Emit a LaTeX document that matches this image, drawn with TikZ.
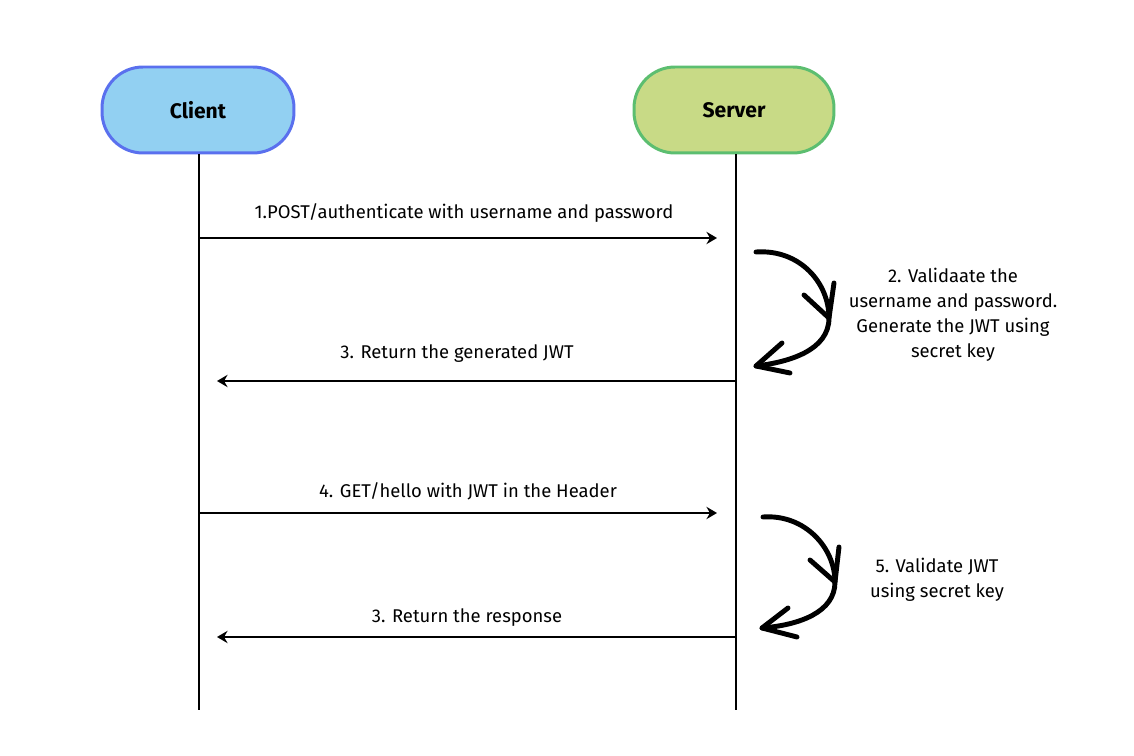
\documentclass[tikz,border=0pt]{standalone}
\usepackage{fontspec}
\setmainfont{Fira Sans}
\usetikzlibrary{arrows.meta}

\definecolor{clientfill}{RGB}{146,208,242}
\definecolor{clientline}{RGB}{90,112,238}
\definecolor{serverfill}{RGB}{200,218,134}
\definecolor{serverline}{RGB}{92,190,112}

\tikzset{
  actor/.style={draw,line width=1.7pt,rounded corners=0.82cm,minimum width=3.84cm,
    minimum height=1.72cm,font=\large\bfseries},
  lifeline/.style={line width=1.2pt},
  message/.style={line width=1.2pt,-{Stealth[length=6pt,width=7pt,inset=2pt]}},
  msg/.style={font=\fontsize{10.5}{14.2}\selectfont,inner sep=1pt},
  note/.style={font=\fontsize{10.5}{14.2}\selectfont,align=center,inner sep=1pt},
  loopback/.style={line width=2.8pt,line cap=round,line join=round}
}

\begin{document}
\begin{tikzpicture}[x=0.02cm,y=-0.02cm]
  \useasboundingbox (0,0) rectangle (1134,756);

  % actors
  \node[actor,fill=clientfill,draw=clientline] (client) at (198,110) {Client};
  \node[actor,fill=serverfill,draw=serverline,minimum width=4cm] (server) at (734,110) {Server};

  \coordinate (cend) at (199,710);
  \coordinate (send) at (736,710);
  \draw[lifeline] (client.south -| cend) -- (cend);
  \draw[lifeline] (server.south -| send) -- (send);

  % messages
  \coordinate (c1) at (199,238);  \coordinate (s1) at (717,238);
  \coordinate (s3) at (736,381);  \coordinate (c3) at (217,381);
  \coordinate (c4) at (199,513);  \coordinate (s4) at (717,513);
  \coordinate (s6) at (736,637);  \coordinate (c6) at (217,637);

  \draw[message] (c1) -- (s1);
  \draw[message] (s3) -- (c3);
  \draw[message] (c4) -- (s4);
  \draw[message] (s6) -- (c6);

  \node[msg] (m1) at (464,213) {1.POST/authenticate with username and password};
  \node[msg] (m3) at (457,354) {3. Return the generated JWT};
  \node[msg] (m4) at (468,491) {4. GET/hello with JWT in the Header};
  \node[msg] (m6) at (467,618) {3. Return the response};

  % server side processing
  \coordinate (v1a) at (756,252);
  \coordinate (v1b) at (829,318);
  \coordinate (v1c) at (756,366);
  \draw[loopback] (v1a) .. controls (800,249) and (829,283) .. (v1b)
                        .. controls (829,350) and (790,362) .. (v1c);
  \draw[loopback] (804,295) -- (v1b) -- (834,283);
  \draw[loopback] (782,343) -- (v1c) -- (790,373);

  \coordinate (v2a) at (763,517);
  \coordinate (v2b) at (835,582);
  \coordinate (v2c) at (762,628);
  \draw[loopback] (v2a) .. controls (805,514) and (835,548) .. (v2b)
                        .. controls (835,612) and (800,625) .. (v2c);
  \draw[loopback] (810,560) -- (v2b) -- (839,547);
  \draw[loopback] (788,608) -- (v2c) -- (797,637);

  \node[note] (n2) at (953,315) {2. Validaate the\\username and password.\\Generate the JWT using\\secret key};
  \node[note] (n5) at (937,580) {5. Validate JWT\\using secret key};
\end{tikzpicture}
\end{document}
